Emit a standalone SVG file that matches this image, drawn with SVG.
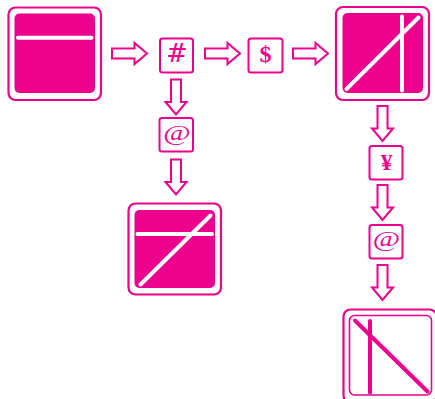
<svg xmlns="http://www.w3.org/2000/svg" width="435" height="399" viewBox="0 0 435 399">
<defs>
<style>
.outer{fill:#fff;stroke:#EC008C;stroke-width:2.2}
.inner{fill:#EC008C}
.wl{stroke:#fff;stroke-width:4;stroke-linecap:round;fill:none}
.ml{stroke:#EC008C;stroke-width:4;stroke-linecap:round;fill:none}
.tag{fill:#fff;stroke:#EC008C;stroke-width:2}
.arr{fill:#fff;stroke:#EC008C;stroke-width:2;stroke-linejoin:miter}
.t{font-family:"Liberation Serif","DejaVu Serif",serif;fill:#EC008C;text-anchor:middle}
</style>
<path id="arrow" class="arr" d="M0,-5 H22.5 V-10.5 L35,0 L22.5,10.5 V5 H0 Z"/>
</defs>
<rect width="435" height="399" fill="#fff"/>
<g id="connectors">
<use href="#arrow" transform="translate(112,53.5)"/>
<use href="#arrow" transform="translate(205,53.5)"/>
<use href="#arrow" transform="translate(293,53.5)"/>
<use href="#arrow" transform="translate(176,79.5) rotate(90)"/>
<use href="#arrow" transform="translate(176,159.5) rotate(90)"/>
<use href="#arrow" transform="translate(382.5,106) rotate(90)"/>
<use href="#arrow" transform="translate(382.5,185) rotate(90)"/>
<use href="#arrow" transform="translate(382.5,265) rotate(90)"/>
</g>
<g id="box1">
<rect class="outer" x="8.5" y="7.5" width="92.5" height="92.5" rx="7"/>
<rect class="inner" x="14.5" y="13.5" width="80.5" height="79.5" rx="5"/>
<line class="wl" x1="18" y1="37.7" x2="91.5" y2="37.7"/>
</g>
<g id="box2">
<rect class="outer" x="336" y="7" width="93" height="93" rx="7"/>
<rect class="inner" x="342.5" y="13" width="80.5" height="80" rx="5"/>
<line class="wl" x1="346.5" y1="89" x2="418.5" y2="17.5"/>
<line class="wl" x1="402" y1="16.5" x2="402" y2="90.5"/>
</g>
<g id="box3">
<rect class="outer" x="128.5" y="203.5" width="92.5" height="91" rx="7"/>
<rect class="inner" x="134.5" y="210" width="80.5" height="78" rx="5"/>
<line class="wl" x1="137.5" y1="234" x2="212" y2="234"/>
<line class="wl" x1="140.5" y1="284.5" x2="210.5" y2="215.5"/>
</g>
<g id="box4">
<rect class="outer" x="343.5" y="309.5" width="93" height="93" rx="7"/>
<rect x="349.5" y="315.5" width="82" height="79.5" rx="5" fill="#fff" stroke="#EC008C" stroke-width="1.6"/>
<line class="ml" x1="370" y1="321" x2="370" y2="392.5"/>
<line class="ml" x1="355" y1="320.5" x2="427.5" y2="391.5"/>
</g>
<g id="hash">
<rect class="tag" x="160" y="38.5" width="33" height="34" rx="2.5"/>
<text class="t" x="177" y="62" font-size="26" font-style="italic" style="font-family:'DejaVu Serif',serif">#</text>
</g>
<g id="dollar">
<rect class="tag" x="248.5" y="38.5" width="34" height="34" rx="2.5"/>
<text class="t" x="265.5" y="62" font-size="24" font-weight="bold">$</text>
</g>
<g id="at1">
<rect class="tag" x="159.5" y="118" width="33.5" height="33.5" rx="2.5"/>
<text class="t" transform="translate(177,140) scale(1.35,1)" font-size="22">@</text>
</g>
<g id="yen">
<rect class="tag" x="369.5" y="146" width="33" height="33.5" rx="2.5"/>
<text class="t" x="386.5" y="170.3" font-size="23.5" font-weight="bold">¥</text>
</g>
<g id="at2">
<rect class="tag" x="369.5" y="225" width="33" height="33.5" rx="2.5"/>
<text class="t" transform="translate(386.3,246) scale(1.35,1)" font-size="22">@</text>
</g>
</svg>
